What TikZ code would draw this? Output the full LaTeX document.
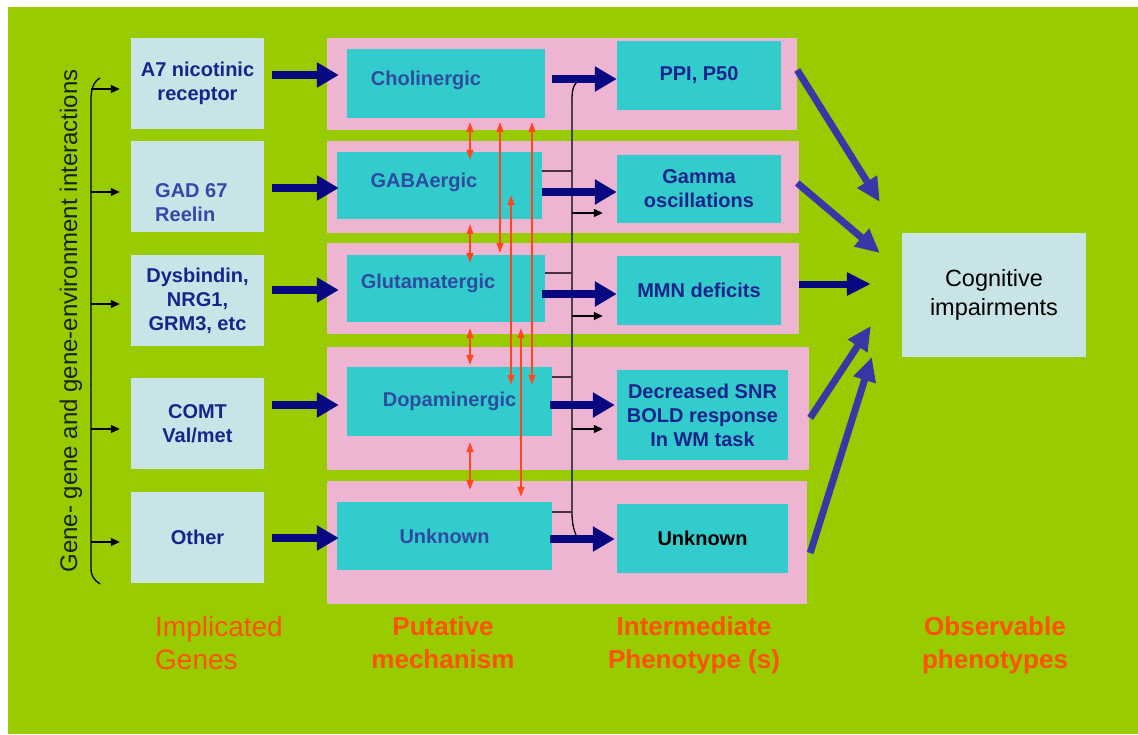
\documentclass[tikz,border=0pt]{standalone}
\usepackage{fontspec}
\setmainfont{Liberation Sans}
\usetikzlibrary{arrows.meta}

\definecolor{bggreen}{RGB}{153,204,0}
\definecolor{panelpink}{RGB}{238,181,210}
\definecolor{mechteal}{RGB}{51,204,204}
\definecolor{genebox}{RGB}{200,228,230}
\definecolor{navyarrow}{RGB}{8,8,128}
\definecolor{diagblue}{RGB}{55,55,165}
\definecolor{genetext}{RGB}{25,35,140}
\definecolor{mechtext}{RGB}{45,75,160}
\definecolor{gadtext}{RGB}{55,70,170}
\definecolor{linkred}{RGB}{255,70,30}
\definecolor{labelorange}{RGB}{255,80,0}
\definecolor{tickgray}{RGB}{70,50,60}

\newcommand{\bxfont}{\fontsize{20}{24}\selectfont\bfseries}

\begin{document}
\begin{tikzpicture}[x=1pt, y=-1pt,
  gene/.style={fill=genebox, inner sep=0, minimum width=133, minimum height=91, align=center, font=\bxfont, text=genetext},
  mech/.style={fill=mechteal, inner sep=0, align=center, font=\bxfont, text=mechtext},
  pheno/.style={fill=mechteal, inner sep=0, align=center, font=\bxfont, text=genetext},
  bigarrow/.style={draw=navyarrow, line width=8pt, -{Triangle[length=22pt, width=24pt]}},
  diagarrow/.style={draw=diagblue, line width=7pt, -{Triangle[length=24pt, width=22pt]}},
  smallarrow/.style={draw=black, line width=1.2pt, -{Triangle[length=9pt, width=8pt]}},
  linkarrow/.style={draw=linkred, line width=1.1pt, {Triangle[length=10pt, width=7pt]}-{Triangle[length=10pt, width=7pt]}},
  busline/.style={draw=black, line width=1.3pt},
  tickline/.style={draw=tickgray, line width=1.5pt},
  biglab/.style={inner sep=0, text=labelorange, font=\fontsize{28}{33}\selectfont},
  boldlab/.style={inner sep=0, align=center, text=labelorange, font=\fontsize{26}{33}\selectfont\bfseries}]

  \useasboundingbox (0,0) rectangle (1138,734);
  \fill[bggreen] (8,7) rectangle (1138,734);

  % pink panels
  \fill[panelpink] (327,38) rectangle (797,130);
  \fill[panelpink] (327,141) rectangle (799,233);
  \fill[panelpink] (327,243) rectangle (799,334);
  \fill[panelpink] (327,347) rectangle (809,470);
  \fill[panelpink] (327,481) rectangle (807,604);

  % implicated genes
  \node[gene] (a7) at (197.5,83.5) {A7 nicotinic\\receptor};
  \node[gene] (gad) at (197.5,186.5) {};
  \node[inner sep=0, align=left, anchor=west, font=\bxfont, text=gadtext] (gadT) at (155,203) {GAD 67\\Reelin};
  \node[gene] (dys) at (197.5,300.5) {Dysbindin,\\NRG1,\\GRM3, etc};
  \node[gene] (comt) at (197.5,423.5) {COMT\\Val/met};
  \node[gene] (other) at (197.5,537) {Other};

  % putative mechanisms
  \node[mech, minimum width=198, minimum height=69] (chol) at (446,83.5) {};
  \node[mech] (cholT) at (426,80) {Cholinergic};
  \node[mech, minimum width=205, minimum height=67] (gaba) at (439.5,185.5) {};
  \node[mech] (gabaT) at (424,182) {GABAergic};
  \node[mech, minimum width=198, minimum height=67] (glu) at (446,288.5) {};
  \node[mech] (gluT) at (428,283) {Glutamatergic};
  \node[mech, minimum width=205, minimum height=69] (dopa) at (449.5,401.5) {Dopaminergic};
  \node[mech, minimum width=215, minimum height=68] (unk) at (444.5,536) {Unknown};

  % intermediate phenotypes
  \node[pheno, minimum width=164, minimum height=69] (ppi) at (699,75.5) {PPI, P50};
  \node[pheno, minimum width=164, minimum height=68] (gamma) at (699,189) {Gamma\\oscillations};
  \node[pheno, minimum width=164, minimum height=69] (mmn) at (699,290.5) {MMN deficits};
  \node[pheno, minimum width=171, minimum height=90] (dec) at (702.5,415) {Decreased SNR\\BOLD response\\In WM task};
  \node[pheno, minimum width=171, minimum height=69, text=black] (unkp) at (702.5,538.5) {Unknown};

  \node[fill=genebox, inner sep=0, minimum width=184, minimum height=124, align=center,
        font=\fontsize{23.5}{29}\selectfont] (cog) at (994,295) {Cognitive\\impairments};

  % gene-gene bracket
  \node[rotate=90, inner sep=0, text={rgb,255:red,25;green,35;blue,25}, font=\fontsize{24}{28}\selectfont] (gxlab) at (71,321) {Gene- gene and gene-environment interactions};
  \draw[busline] (100,78) .. controls (93,82) and (91,90) .. (91,100) -- (91,568) .. controls (91,576) and (94,580) .. (100,584);
  \foreach \g/\dy in {a7/5.5, gad/5.5, dys/3.5, comt/5.5, other/5}
    \draw[smallarrow] ([shift={(-40,\dy)}]\g.west) -- ([shift={(-11,\dy)}]\g.west);

  % bus to phenotypes
  \draw[busline] (583,80) .. controls (574,81) and (572,88) .. (572,100) -- (572,512) .. controls (572,524) and (574,532) .. (578,539);
  \foreach \m/\dx/\dy in {gaba/30/-14.5, glu/27/-15.5, dopa/20/-24.5, unk/20/-24}
    \draw[tickline] ([shift={(0,\dy)}]\m.east) -- ([shift={(\dx,\dy)}]\m.east);
  \foreach \p/\dy in {gamma/24, mmn/25.5, dec/14}
    \draw[smallarrow] ([shift={(-45,\dy)}]\p.west) -- ([shift={(-14,\dy)}]\p.west);

  % interactions between mechanisms
  \draw[linkarrow] ([shift={(24,4)}]chol.south) -- ([shift={(30.5,8)}]gaba.north);
  \draw[linkarrow] ([shift={(30.5,5)}]gaba.south) -- ([shift={(24,8)}]glu.north);
  \draw[linkarrow] ([shift={(24,6)}]glu.south) -- ([shift={(20.5,-2)}]dopa.north);
  \draw[linkarrow] ([shift={(20.5,6)}]dopa.south) -- ([shift={(25.5,-12)}]unk.north);
  \draw[linkarrow] ([shift={(54,4)}]chol.south) -- ([shift={(54,-2)}]glu.north);
  \draw[linkarrow] ([shift={(86,4)}]chol.south) -- ([shift={(82.5,18)}]dopa.north);
  \draw[linkarrow] ([shift={(71.5,-24)}]gaba.south) -- ([shift={(61.5,18)}]dopa.north);
  \draw[linkarrow] ([shift={(75,6)}]glu.south) -- ([shift={(76.5,-5)}]unk.north);

  % genes to mechanisms
  \foreach \g/\m/\ga/\mx/\mb in {a7/chol/-8.5/-8/-8.5, gad/gaba/1.5/2/2.5, dys/glu/-10.5/-8/1.5, comt/dopa/-18.5/-8/3.5, other/unk/1/2/2}
    \draw[bigarrow] ([shift={(8,\ga)}]\g.east) -- ([shift={(\mx,\mb)}]\m.west);

  % mechanisms to phenotypes
  \foreach \m/\p/\sx/\ma/\px/\pb in {chol/ppi/7/-4.5/0/3.5, gaba/gamma/0/6.5/0/3, glu/mmn/-3/5.5/0/3.5, dopa/dec/-2/3.5/-2/-10, unk/unkp/-2/3/-2/0.5}
    \draw[bigarrow] ([shift={(\sx,\ma)}]\m.east) -- ([shift={(\px,\pb)}]\p.west);

  % phenotypes to cognitive impairments
  \draw[diagarrow] ([shift={(16,-5.5)}]ppi.east) -- ([shift={(-22,-93)}]cog.west);
  \draw[diagarrow] ([shift={(16,-6)}]gamma.east) -- ([shift={(-22,-42)}]cog.west);
  \draw[diagarrow, draw=navyarrow] ([shift={(18,-6.5)}]mmn.east) -- ([shift={(-31,-11)}]cog.west);
  \draw[diagarrow] ([shift={(22,3)}]dec.east) -- ([shift={(-31,31)}]cog.west);
  \draw[diagarrow] ([shift={(22,14.5)}]unkp.east) -- ([shift={(-30,62)}]cog.west);

  % column labels
  \node[biglab, align=left, anchor=north west] (genesLab) at (155,616) {Implicated\\Genes};
  \node[boldlab, anchor=north] (mechLab) at (443,616) {Putative\\mechanism};
  \node[boldlab, anchor=north] (interLab) at (694,616) {Intermediate\\Phenotype (s)};
  \node[boldlab, anchor=north] (obsLab) at (995,616) {Observable\\phenotypes};
\end{tikzpicture}
\end{document}
